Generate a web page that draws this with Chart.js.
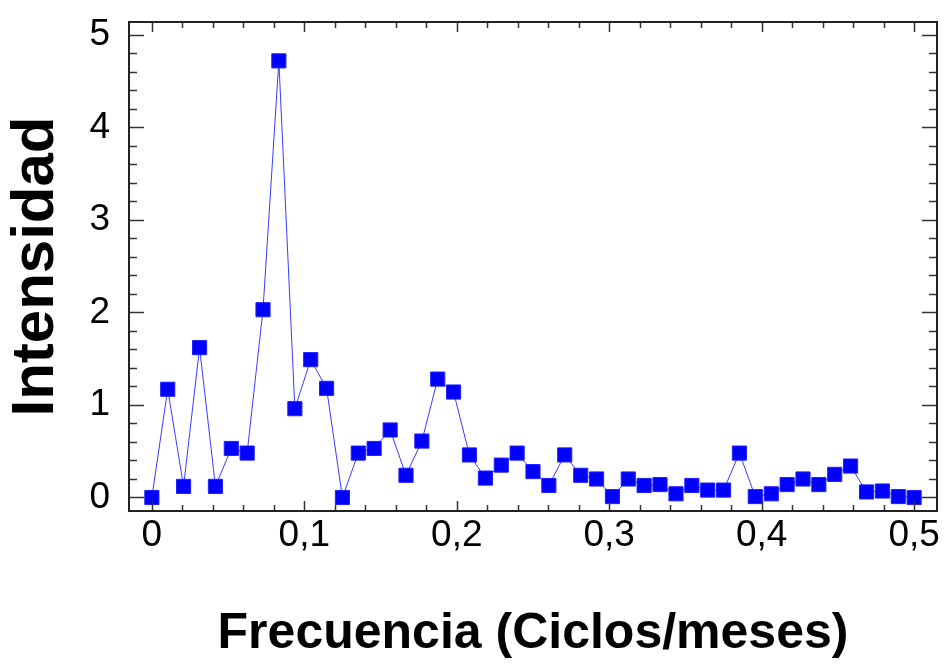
<!DOCTYPE html>
<html lang="es">
<head>
    <meta charset="UTF-8">
    <title>Intensidad vs Frecuencia</title>
    <script src="https://cdn.jsdelivr.net/npm/chart.js"></script>
    <style>
        html, body { margin: 0; padding: 0; background: #fff; }
        #wrap { width: 948px; height: 664px; }
    </style>
</head>
<body>
    <div id="wrap"><canvas id="periodograma"></canvas></div>

    <script>
        // frecuencias (ciclos/mes)
        const frecuencia = [
            0, 0.0104, 0.0208, 0.0313, 0.0417, 0.0521, 0.0625, 0.0729, 0.0833, 0.0938,
            0.1042, 0.1146, 0.125, 0.1354, 0.1458, 0.1563, 0.1667, 0.1771, 0.1875, 0.1979,
            0.2083, 0.2188, 0.2292, 0.2396, 0.25, 0.2604, 0.2708, 0.2813, 0.2917, 0.3021,
            0.3125, 0.3229, 0.3333, 0.3438, 0.3542, 0.3646, 0.375, 0.3854, 0.3958, 0.4063,
            0.4167, 0.4271, 0.4375, 0.4479, 0.4583, 0.4688, 0.4792, 0.4896, 0.5
        ];
        // intensidad
        const intensidad = [
            0.00, 1.17, 0.12, 1.62, 0.12, 0.53, 0.48, 2.03, 4.72, 0.96,
            1.49, 1.18, 0.00, 0.48, 0.53, 0.73, 0.24, 0.61, 1.28, 1.14,
            0.46, 0.21, 0.35, 0.48, 0.28, 0.13, 0.46, 0.24, 0.20, 0.01,
            0.20, 0.13, 0.14, 0.04, 0.13, 0.08, 0.08, 0.48, 0.01, 0.04,
            0.14, 0.20, 0.14, 0.25, 0.34, 0.06, 0.07, 0.01, 0.00
        ];
        const xTicks = [0, 0.1, 0.2, 0.3, 0.4, 0.5];
        const yTicks = [0, 1, 2, 3, 4, 5];

        const fuente = "'Liberation Sans', Arial, sans-serif";

        // marco y marcas hacia dentro en los cuatro lados
        const marco = {
            id: 'marco',
            afterDatasetsDraw(chart) {
                const ctx = chart.ctx;
                const a = chart.chartArea;
                const sx = chart.scales.x, sy = chart.scales.y;
                ctx.save();
                ctx.strokeStyle = '#333';
                ctx.lineWidth = 1.5;
                ctx.beginPath();
                for (let i = 0; i <= 25; i++) {
                    const px = Math.round(sx.getPixelForValue(i * 0.02)) + 0.5;
                    const len = i % 5 === 0 ? 10 : 6;
                    ctx.moveTo(px, a.bottom); ctx.lineTo(px, a.bottom - len);
                    ctx.moveTo(px, a.top); ctx.lineTo(px, a.top + len);
                }
                for (let i = 0; i <= 25; i++) {
                    const py = Math.round(sy.getPixelForValue(i * 0.2)) + 0.5;
                    const len = i % 5 === 0 ? 15 : 8;
                    ctx.moveTo(a.left, py); ctx.lineTo(a.left + len, py);
                    ctx.moveTo(a.right, py); ctx.lineTo(a.right - len, py);
                }
                ctx.stroke();
                ctx.lineWidth = 2;
                ctx.strokeStyle = '#222';
                ctx.strokeRect(a.left, a.top, a.right - a.left, a.bottom - a.top);
                ctx.restore();
            }
        };

        const ctx = document.getElementById('periodograma').getContext('2d');
        new Chart(ctx, {
            type: 'scatter',
            data: {
                datasets: [{
                    data: frecuencia.map((f, i) => ({ x: f, y: intensidad[i] })),
                    showLine: true,
                    borderColor: '#3a3aff',
                    borderWidth: 1,
                    pointStyle: 'rect',
                    pointRadius: 10,
                    pointBackgroundColor: '#0000ff',
                    pointBorderColor: '#2020ff',
                    pointBorderWidth: 1,
                    clip: false
                }]
            },
            options: {
                responsive: true,
                maintainAspectRatio: false,
                animation: false,
                layout: { padding: { top: 22, right: 7, left: 0, bottom: 0 } },
                plugins: {
                    legend: { display: false },
                    tooltip: { enabled: false }
                },
                scales: {
                    x: {
                        type: 'linear',
                        min: -0.015,
                        max: 0.515,
                        afterBuildTicks: s => { s.ticks = xTicks.map(v => ({ value: v })); },
                        afterFit: s => { s.height = 153; s.paddingLeft = 0; s.paddingRight = 0; },
                        grid: { display: false },
                        border: { display: false },
                        ticks: {
                            color: '#000',
                            padding: -5,
                            maxRotation: 0,
                            font: { family: fuente, size: 37 },
                            callback: v => String(v).replace('.', ',')
                        },
                        title: {
                            display: true,
                            text: 'Frecuencia (Ciclos/meses)',
                            color: '#000',
                            padding: 0,
                            font: { family: fuente, size: 50, weight: 'bold' }
                        }
                    },
                    y: {
                        type: 'linear',
                        min: -0.146,
                        max: 5.14,
                        afterBuildTicks: s => { s.ticks = yTicks.map(v => ({ value: v })); },
                        afterFit: s => { s.width = 129; s.paddingTop = 0; s.paddingBottom = 0; },
                        grid: { display: false },
                        border: { display: false },
                        ticks: {
                            color: '#000',
                            padding: 11,
                            font: { family: fuente, size: 37 }
                        },
                        title: {
                            display: true,
                            text: 'Intensidad',
                            color: '#000',
                            padding: 0,
                            font: { family: fuente, size: 60, weight: 'bold' }
                        }
                    }
                }
            },
            plugins: [marco]
        });
    </script>
</body>
</html>
